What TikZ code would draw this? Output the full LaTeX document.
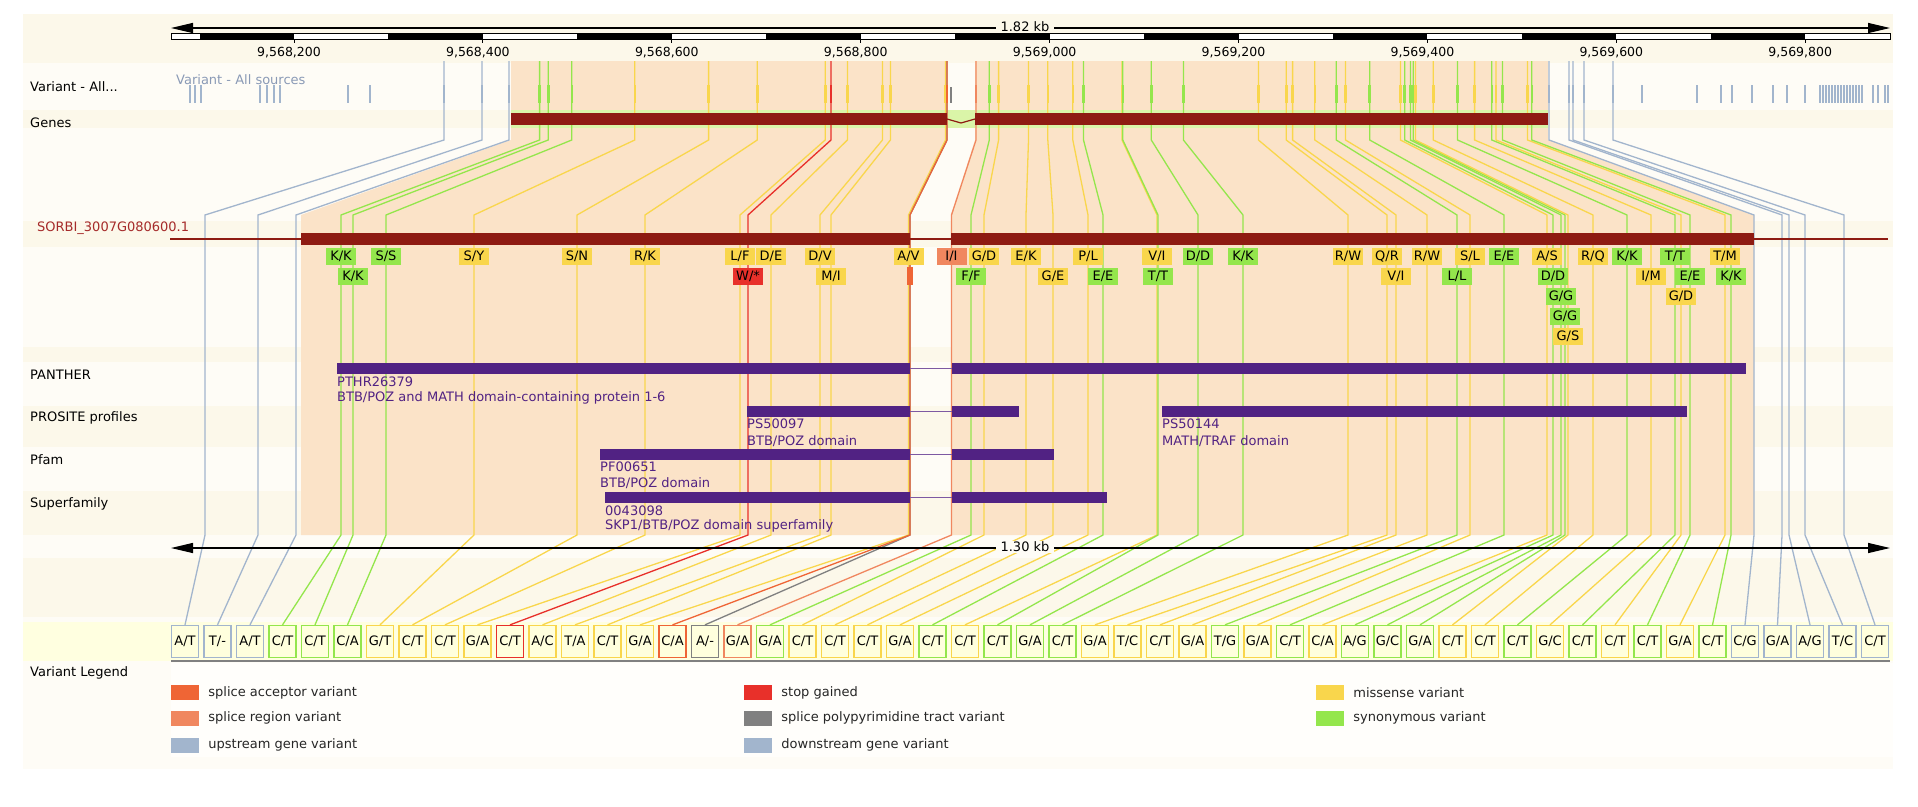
\documentclass[tikz,border=0pt]{standalone}
\usepackage{fontspec}
\setmainfont{DejaVu Sans}
\usetikzlibrary{arrows.meta}
\usetikzlibrary{positioning}

\definecolor{panelbg}{HTML}{FEFCF6}
\definecolor{bandbg}{HTML}{FCF8EA}
\definecolor{legbg}{HTML}{FFFEFB}
\definecolor{boxrow}{HTML}{FFFFE0}
\definecolor{boxfill}{HTML}{FFFFDD}
\definecolor{peach}{HTML}{FBE3C8}
\definecolor{genehl}{HTML}{DAF5A8}
\definecolor{genered}{HTML}{8E1B12}
\definecolor{txred}{HTML}{A52A2A}
\definecolor{dompurple}{HTML}{512283}
\definecolor{srcgrey}{HTML}{8A9AB6}
\definecolor{misscol}{HTML}{F9D64C}
\definecolor{syncol}{HTML}{94E64C}
\definecolor{stopcol}{HTML}{E8302A}
\definecolor{acccol}{HTML}{EF6535}
\definecolor{regcol}{HTML}{F0875F}
\definecolor{pptcol}{HTML}{808080}
\definecolor{updncol}{HTML}{A2B5CD}

% box / colour / genome x / transcript x / amino acids / label row
\newcommand{\vardata}{%
1/updncol/444/205/-/-/0, 2/updncol/482/258/-/-/0, 3/updncol/509/296/-/-/0,
49/updncol/1549/1754/-/-/0, 50/updncol/1569/1782/-/-/0, 51/updncol/1573/1789/-/-/0,
52/updncol/1584/1805/-/-/0, 53/updncol/1613/1844/-/-/0,
4/syncol/539.6/341/K/K/1, 5/syncol/548.2/353/K/K/2, 6/syncol/571.8/386/S/S/1,
7/misscol/634.8/474/S/Y/1, 8/misscol/708.6/577/S/N/1, 9/misscol/757.2/645/R/K/1,
10/misscol/825.2/740/L/F/1, 12/misscol/847.4/771/D/E/1, 13/misscol/882.5/820/D/V/1,
14/misscol/890.4/831/M/I/2, 15/misscol/945.5/908.5/A/V/1,
17/pptcol/947/910/-/-/0, 16/acccol/947/910/-/-/0, 18/regcol/976/951.5/I/I/1,
19/syncol/989.3/971/F/F/2, 20/misscol/998.6/984/G/D/1, 21/misscol/1028.5/1026/E/K/1,
22/misscol/1047.8/1053/G/E/2, 23/misscol/1072.8/1088/P/L/1, 24/syncol/1083.5/1103/E/E/2,
25/misscol/1122/1157/V/I/1, 26/syncol/1122.8/1158/T/T/2, 27/syncol/1151.3/1198/D/D/1,
28/syncol/1183.4/1243/K/K/1, 29/misscol/1258.4/1348/R/W/1, 30/misscol/1286.2/1387/Q/R/1,
31/misscol/1292.6/1396/V/I/2, 32/misscol/1314.8/1427/R/W/1, 33/syncol/1336.2/1457/L/L/2,
34/misscol/1345.5/1470/S/L/1, 35/syncol/1369.7/1504/E/E/1, 36/misscol/1400.4/1547/A/S/1,
37/syncol/1404.7/1553/D/D/2, 38/syncol/1410.4/1561/G/G/3, 39/syncol/1413.2/1565/G/G/4,
40/misscol/1415.4/1568/G/S/5, 41/misscol/1433.2/1593/R/Q/1, 42/syncol/1457.5/1627/K/K/1,
43/misscol/1474.6/1651/I/M/2, 44/syncol/1491.8/1675/T/T/1, 45/misscol/1496/1681/G/D/3,
46/syncol/1502.5/1690/E/E/2, 47/misscol/1527.5/1725/T/M/1, 48/syncol/1531.8/1731/K/K/2,
11/stopcol/831/748/W/*/2}

\newcommand{\boxdata}{%
1/updncol/A/T, 2/updncol/T/-, 3/updncol/A/T, 4/syncol/C/T, 5/syncol/C/T, 6/syncol/C/A,
7/misscol/G/T, 8/misscol/C/T, 9/misscol/C/T, 10/misscol/G/A, 11/stopcol/C/T,
12/misscol/A/C, 13/misscol/T/A, 14/misscol/C/T, 15/misscol/G/A, 16/acccol/C/A,
17/pptcol/A/-, 18/regcol/G/A, 19/syncol/G/A, 20/misscol/C/T, 21/misscol/C/T,
22/misscol/C/T, 23/misscol/G/A, 24/syncol/C/T, 25/misscol/C/T, 26/syncol/C/T,
27/syncol/G/A, 28/syncol/C/T, 29/misscol/G/A, 30/misscol/T/C, 31/misscol/C/T,
32/misscol/G/A, 33/syncol/T/G, 34/misscol/G/A, 35/syncol/C/T, 36/misscol/C/A,
37/syncol/A/G, 38/syncol/G/C, 39/syncol/G/A, 40/misscol/C/T, 41/misscol/C/T,
42/syncol/C/T, 43/misscol/G/C, 44/syncol/C/T, 45/misscol/C/T, 46/syncol/C/T,
47/misscol/G/A, 48/syncol/C/T, 49/updncol/C/G, 50/updncol/G/A, 51/updncol/A/G,
52/updncol/T/C, 53/updncol/C/T}

\begin{document}
\begin{tikzpicture}[x=1pt, y=-1pt,
			tracklab/.style={anchor=west, inner sep=0pt, font=\fontsize{13}{15}\selectfont},
			domlab/.style={tracklab, text=dompurple},
			domline/.style={draw=dompurple!75, line width=1.2pt},
			aalab/.style={fill=#1, minimum width=30pt, minimum height=17pt, inner sep=0pt, font=\fontsize{13}{15}\selectfont},
			varbox/.style={draw=#1, line width=1.3pt, fill=boxfill, minimum width=27pt, minimum height=32pt, inner sep=0pt, font=\fontsize{13}{15}\selectfont},
			conn/.style={draw=#1, line width=1.3pt},
			kblab/.style={fill=#1, inner xsep=5pt, inner ysep=1pt, font=\fontsize{13}{15}\selectfont},
			scalearrow/.style={line width=1.3pt, {Triangle[length=22pt,width=10pt]}-{Triangle[length=22pt,width=10pt]}},
			swatch/.style={fill=#1, minimum width=28pt, minimum height=15pt, inner sep=0pt},
			legtext/.style={tracklab, text=black!85}]
			\fill[white] (0,0) rectangle (1918,806);
			\useasboundingbox (0,0) rectangle (1918,806);
			
			% panel and track bands
			\fill[panelbg] (23,14) rectangle (1893,769);
			\foreach \ya/\yb in {14/63, 110/128, 221/247, 347/362, 406/447, 491/535, 558/617}
				\fill[bandbg] (23,\ya) rectangle (1893,\yb);
			\fill[boxrow] (23,622) rectangle (1893,661);
			\fill[legbg] (171,663) rectangle (1893,757);
			
			% exon shading
			\fill[peach] (511,61) -- (947,61) -- (947,140) -- (910,215) -- (910,535) -- (301,535) -- (301,215) -- (511,140) -- cycle;
			\fill[peach] (975,61) -- (1548,61) -- (1548,140) -- (1754,215) -- (1754,535) -- (951,535) -- (951,215) -- (975,140) -- cycle;
			
			% top ruler
			\draw[scalearrow] (171,28) -- (1890,28);
			\node[kblab=bandbg](kbtop) at (1025,27) {1.82 kb};
			\draw[fill=white, line width=1pt] (171,33) rectangle (1890,39);
			\foreach \j in {0,...,8}
				\fill ({199.5+\j*188.9},33) rectangle ({294+\j*188.9},39);
			\foreach \j/\a/\b in {0/568/200, 1/568/400, 2/568/600, 3/568/800, 4/569/000, 5/569/200, 6/569/400, 7/569/600, 8/569/800} {
				\draw[line width=1pt] ({294+\j*188.9},39) -- ({294+\j*188.9},43);
				\node[inner sep=0pt, font=\fontsize{12.5}{14}\selectfont](tick\j) at ({289+\j*188.9},53) {9,\a,\b};
			}
			
			% track names
			\node[tracklab](labvar) at (30,87) {Variant - All...};
			\node[tracklab, text=srcgrey](labsrc) at (176,80) {Variant - All sources};
			\node[tracklab](labgenes) at (30,123) {Genes};
			\node[tracklab, text=txred](labtx) at (37,228) {SORBI\_3007G080600.1};
			\node[tracklab](labpanther) at (30,375) {PANTHER};
			\node[tracklab](labprosite) at (30,418) {PROSITE profiles};
			\node[tracklab](labpfam) at (30,460) {Pfam};
			\node[tracklab](labsuper) at (30,504) {Superfamily};
			\node[tracklab](lableg) at (30,673) {Variant Legend};
			
			% variant boxes
			\foreach \n/\c/\ra/\rb in \boxdata
				\node[varbox=\c](b\n) at ({185+(\n-1)*32.5},641.5) {\ra/\rb};
			
			% other variants with no consequence on the transcript
			\foreach \gx in {190,195,201,260,267,274,280,348,370,1642,1697,1721,1732,1752,1773,1787,1805,1820,1823,1826,1829,1832,1835,1838,1841,1844,1847,1850,1853,1856,1859,1862,1873,1878,1885,1888}
				\fill[updncol] (\gx-1.3,85) rectangle (\gx+1.3,103);
			\fill[pptcol] (949.7,87) rectangle (952.3,103);
			
			\fill[genehl] (511,110) rectangle (1548,128);
			
			% connectors genome -> transcript -> variant box
			\foreach \n/\c/\gx/\tx/\aa/\ab/\row in \vardata {
				\coordinate (g\n) at (\gx,61);
				\fill[\c] (\gx-1.3,85) rectangle (\gx+1.3,103);
				\draw[conn=\c] (g\n) -- (\gx,140) -- (\tx,215) -- (\tx,535) -- (b\n.north);
			}
			
			% gene and transcript
			\fill[genered] (511,113) rectangle (947,125);
			\fill[genered] (975,113) rectangle (1548,125);
			\draw[genered, line width=1.2pt] (947,119) -- (961,123) -- (975,119);
			\draw[genered, line width=1.2pt] (170,239) -- (1888,239);
			\fill[genered] (301,233) rectangle (910,245);
			\fill[genered] (951,233) rectangle (1754,245);
			
			% protein domains
			\fill[dompurple] (337,363) rectangle (910,374);
			\fill[dompurple] (952,363) rectangle (1746,374);
			\draw[domline] (910,368.5) -- (952,368.5);
			\node[domlab](pthr) at (337,382) {PTHR26379};
			\node[domlab](pthrd) at (337,398) {BTB/POZ and MATH domain-containing protein 1-6};
			
			\fill[dompurple] (747,406) rectangle (910,417);
			\fill[dompurple] (952,406) rectangle (1019,417);
			\draw[domline] (910,411.5) -- (952,411.5);
			\node[domlab](psa) at (747,424) {PS50097};
			\node[domlab](psad) at (747,441) {BTB/POZ domain};
			\fill[dompurple] (1162,406) rectangle (1687,417);
			\node[domlab](psb) at (1162,424) {PS50144};
			\node[domlab](psbd) at (1162,441) {MATH/TRAF domain};
			
			\fill[dompurple] (600,449) rectangle (910,460);
			\fill[dompurple] (952,449) rectangle (1054,460);
			\draw[domline] (910,454.5) -- (952,454.5);
			\node[domlab](pf) at (600,467) {PF00651};
			\node[domlab](pfd) at (600,483) {BTB/POZ domain};
			
			\fill[dompurple] (605,492) rectangle (910,503);
			\fill[dompurple] (952,492) rectangle (1107,503);
			\draw[domline] (910,497.5) -- (952,497.5);
			\node[domlab](sf) at (605,511) {0043098};
			\node[domlab](sfd) at (605,526) {SKP1/BTB/POZ domain superfamily};
			
			% amino acid changes
			\foreach \n/\c/\gx/\tx/\aa/\ab/\row in \vardata {
				\ifnum\row>0
					\node[aalab=\c](l\n) at (\tx,{256.5+(\row-1)*20}) {\aa/\ab};
				\fi
			}
			\fill[acccol] (907,267) rectangle (913,285);
			
			% bottom ruler
			\draw[scalearrow] (171,548) -- (1890,548);
			\node[kblab=panelbg](kbbot) at (1025,547) {1.30 kb};
			\draw[black!50, line width=2pt] (171,661) -- (1890,661);
			
			% legend
			\node[swatch=acccol](sw1) at (185,692.5) {};
			\node[legtext, right=9pt of sw1](lg1) {splice acceptor variant};
			\node[swatch=regcol](sw2) at (185,718) {};
			\node[legtext, right=9pt of sw2](lg2) {splice region variant};
			\node[swatch=updncol](sw3) at (185,745) {};
			\node[legtext, right=9pt of sw3](lg3) {upstream gene variant};
			\node[swatch=stopcol](sw4) at (758,692.5) {};
			\node[legtext, right=9pt of sw4](lg4) {stop gained};
			\node[swatch=pptcol](sw5) at (758,718) {};
			\node[legtext, right=9pt of sw5](lg5) {splice polypyrimidine tract variant};
			\node[swatch=updncol](sw6) at (758,745) {};
			\node[legtext, right=9pt of sw6](lg6) {downstream gene variant};
			\node[swatch=misscol](sw7) at (1330,692.5) {};
			\node[legtext, right=9pt of sw7](lg7) {missense variant};
			\node[swatch=syncol](sw8) at (1330,718) {};
			\node[legtext, right=9pt of sw8](lg8) {synonymous variant};
\end{tikzpicture}
\end{document}
